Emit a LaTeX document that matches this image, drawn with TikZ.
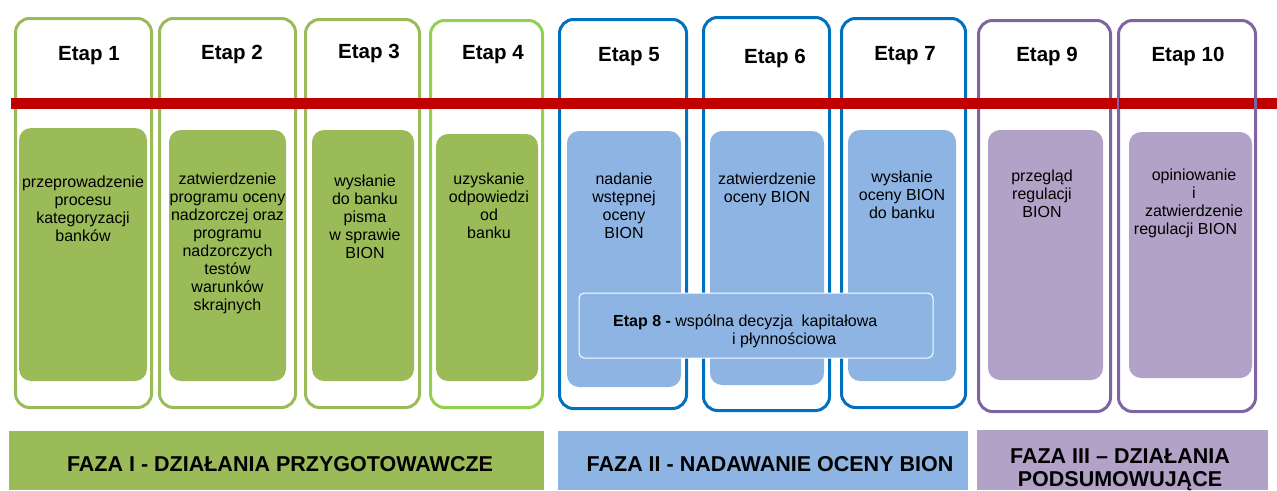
\documentclass[tikz,border=0pt]{standalone}
\usepackage{fontspec}
\setmainfont{Liberation Sans}
\definecolor{grnB}{HTML}{9BBB59}
\definecolor{grnB4}{HTML}{92D050}
\definecolor{grnF}{HTML}{9BBB59}
\definecolor{bluB}{HTML}{0070C0}
\definecolor{bluF}{HTML}{8EB4E3}
\definecolor{purB}{HTML}{8064A2}
\definecolor{purF}{HTML}{B3A2C7}
\definecolor{redL}{HTML}{C00000}
\begin{document}
\begin{tikzpicture}[x=1pt,y=-1pt,
  outerbox/.style={line width=3pt, rounded corners=14pt, fill=white},
  innerbox/.style={rounded corners=12pt},
  etaptitle/.style={font=\fontsize{20.5}{24}\selectfont\bfseries, anchor=base, inner sep=0pt},
  bodytext/.style={font=\fontsize{16}{18}\selectfont, align=center, anchor=north, inner sep=0pt},
  linetext/.style={font=\fontsize{16}{18}\selectfont, anchor=base west, inner sep=0pt},
  fazatext/.style={font=\fontsize{21.5}{20}\selectfont\bfseries, align=center, inner sep=0pt}]
\useasboundingbox (0,0) rectangle (1277,490);

% outer boxes
\draw[outerbox, draw=grnB] (15.5,18.5) rectangle (151.5,407.5);
\draw[outerbox, draw=grnB] (159.5,18.5) rectangle (295.5,407.5);
\draw[outerbox, draw=grnB] (305.5,19.5) rectangle (419.5,407.5);
\draw[outerbox, draw=grnB4] (430.5,20.5) rectangle (542.5,407.5);
\draw[outerbox, draw=bluB] (559.5,19.5) rectangle (686.5,408.5);
\draw[outerbox, draw=bluB] (703.5,17.5) rectangle (829.5,410.5);
\draw[outerbox, draw=bluB] (841.5,18.5) rectangle (965.5,407.5);
\draw[outerbox, draw=purB] (978.5,20.5) rectangle (1110.5,411.5);

% red timeline
\fill[redL] (11,98) rectangle (1277,109);

\draw[outerbox, draw=purB] (1118.5,20.5) rectangle (1255.5,411.5);
\fill[redL] (1119,98) rectangle (1254,109);

% inner boxes
\fill[innerbox, grnF] (19,128) rectangle (147,381);
\fill[innerbox, grnF] (169,130) rectangle (286,381);
\fill[innerbox, grnF] (312,130) rectangle (414,381);
\fill[innerbox, grnF] (436,134) rectangle (538,381);
\fill[innerbox, bluF] (567,131) rectangle (681,387);
\fill[innerbox, bluF] (710,131) rectangle (824,385);
\fill[innerbox, bluF] (848,130) rectangle (956,381);
\fill[innerbox, purF] (988,130) rectangle (1103,380);
\fill[innerbox, purF] (1129,132) rectangle (1252,378);

% Etap 8 box
\draw[rounded corners=5pt, fill=bluF, draw=white, line width=1pt] (579,293) rectangle (933,358);

% titles
\node[etaptitle] (t1) at (89,60) {Etap 1};
\node[etaptitle] (t2) at (232,59) {Etap 2};
\node[etaptitle] (t3) at (369,58) {Etap 3};
\node[etaptitle] (t4) at (493,59) {Etap 4};
\node[etaptitle] (t5) at (629,61) {Etap 5};
\node[etaptitle] (t6) at (775,63) {Etap 6};
\node[etaptitle] (t7) at (905,60) {Etap 7};
\node[etaptitle] (t9) at (1047,61) {Etap 9};
\node[etaptitle] (t10) at (1188,61) {Etap 10};

% body texts
\node[bodytext] (b1) at (83,174.9) {\strut przeprowadzenie\\procesu\\kategoryzacji\\banków};
\node[bodytext] (b2) at (227.5,171.4) {\strut zatwierdzenie\\programu oceny\\nadzorczej oraz\\programu\\nadzorczych\\testów\\warunków\\skrajnych};
\node[bodytext] (b3) at (365,173.4) {\strut wysłanie\\do banku\\pisma\\w sprawie\\BION};
\node[bodytext] (b4) at (489,171.4) {\strut uzyskanie\\odpowiedzi\\od\\banku};
\node[bodytext] (b5) at (624,171.4) {\strut nadanie\\wstępnej\\oceny\\BION};
\node[bodytext] (b6) at (767,171.4) {\strut zatwierdzenie\\oceny BION};
\node[bodytext] (b7) at (902,169.4) {\strut wysłanie\\oceny BION\\do banku};
\node[bodytext] (b9) at (1042,168.4) {\strut przegląd\\regulacji\\BION};
\node[bodytext] (b10) at (1194,167.4) {\strut opiniowanie\\i\\zatwierdzenie\\regulacji BION\hspace*{17pt}};

\node[linetext] (e8a) at (613,326) {\textbf{Etap 8 -} wspólna decyzja\ \ kapitałowa};
\node[linetext] (e8b) at (732,344) {i płynnościowa};

% phase bars
\fill[grnF] (9,431) rectangle (544,490);
\fill[bluF] (558,431) rectangle (968,490);
\fill[purF] (977,430) rectangle (1268,490);
\node[fazatext, anchor=base] (f1) at (280,471) {FAZA I - DZIAŁANIA PRZYGOTOWAWCZE};
\node[fazatext, anchor=base] (f2) at (770,471) {FAZA II - NADAWANIE OCENY BION};
\node[fazatext, anchor=north] (f3) at (1120,449) {\strut FAZA III – DZIAŁANIA\\PODSUMOWUJĄCE};
\end{tikzpicture}
\end{document}
